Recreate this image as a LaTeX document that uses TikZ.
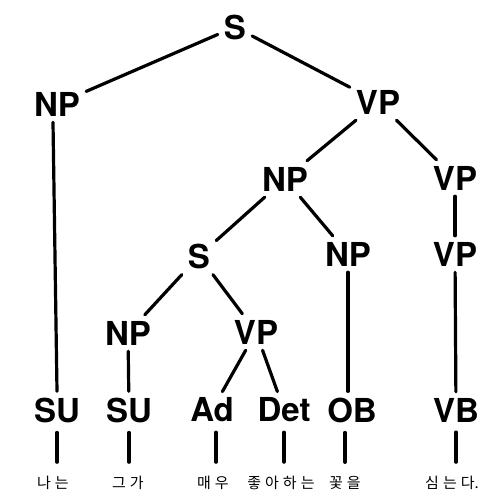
\documentclass[tikz,border=0pt]{standalone}
\usepackage{fontspec}
\setmainfont{TeX Gyre Heros}
\newfontfamily\kr{Noto Sans CJK KR}
\newcommand{\ksp}{\hspace{4pt}}
\begin{document}
\begin{tikzpicture}[x=1pt,y=-1pt,
  lab/.style={font=\fontsize{33}{33}\selectfont\bfseries, inner sep=6pt},
  edge/.style={line width=3.2pt, line cap=round},
  tick/.style={line width=3.6pt, line cap=round, shorten <=4pt, shorten >=14pt},
  word/.style={font=\fontsize{15}{15}\selectfont\kr, inner sep=0pt}]
\useasboundingbox (0,0) rectangle (482,490);
% nodes
\node[lab] (s0)  at (235,27)  {S};
\node[lab] (np1) at (57,104)  {NP};
\node[lab] (vp1) at (378,102) {VP};
\node[lab] (np2) at (285,179) {NP};
\node[lab] (vp2) at (455,178) {VP};
\node[lab] (s1)  at (199,256) {S};
\node[lab] (np3) at (348,254) {NP};
\node[lab] (vp3) at (455,254) {VP};
\node[lab] (np4) at (128,333) {NP};
\node[lab] (vp4) at (256,332) {VP};
\node[lab] (su1) at (57,410)  {SU};
\node[lab] (su2) at (129,410) {SU};
\node[lab] (ad)  at (212,410) {Ad};
\node[lab] (det) at (284,410) {Det};
\node[lab] (ob)  at (352,410) {OB};
\node[lab] (vb)  at (456,410) {VB};
% words
\node[word] (w1) at (53,483)  {나\ksp 는};
\node[word] (w2) at (128,483) {그\ksp 가};
\node[word] (w3) at (213,483) {매\ksp 우};
\node[word] (w4) at (281,483) {좋\ksp 아\ksp 하\ksp 는};
\node[word] (w5) at (345,483) {꽃\ksp 을};
\node[word] (w6) at (452,483) {심\ksp 는\ksp 다.};
% edges
\draw[edge] (s0) -- (np1);
\draw[edge] (s0) -- (vp1);
\draw[edge] (np1.south) ++(-4,0) -- (su1.north -| np1.south);
\draw[edge] (vp1) -- (np2);
\draw[edge] (vp1) -- (vp2);
\draw[edge] (np2) -- (s1);
\draw[edge] (np2) -- (np3);
\draw[edge] (vp2) -- (vp3);
\draw[edge] (s1) -- (np4);
\draw[edge] (s1) -- (vp4);
\draw[edge] (np3.south) -- (ob.north -| np3.south);
\draw[edge] (vp3) -- (vb);
\draw[edge] (np4) -- (su2);
\draw[edge] (vp4) -- (ad);
\draw[edge] (vp4) -- (det);
% ticks
\draw[tick] (su1.south) -- (su1.south |- w1.north);
\draw[tick] (su2.south) -- (su2.south |- w2.north);
\draw[tick] ([xshift=4pt]ad.south) -- ([xshift=4pt]ad.south |- w3.north);
\draw[tick] (det.south) -- (det.south |- w4.north);
\draw[tick] ([xshift=-7pt]ob.south) -- ([xshift=-7pt]ob.south |- w5.north);
\draw[tick] (vb.south) -- (vb.south |- w6.north);
\end{tikzpicture}
\end{document}
